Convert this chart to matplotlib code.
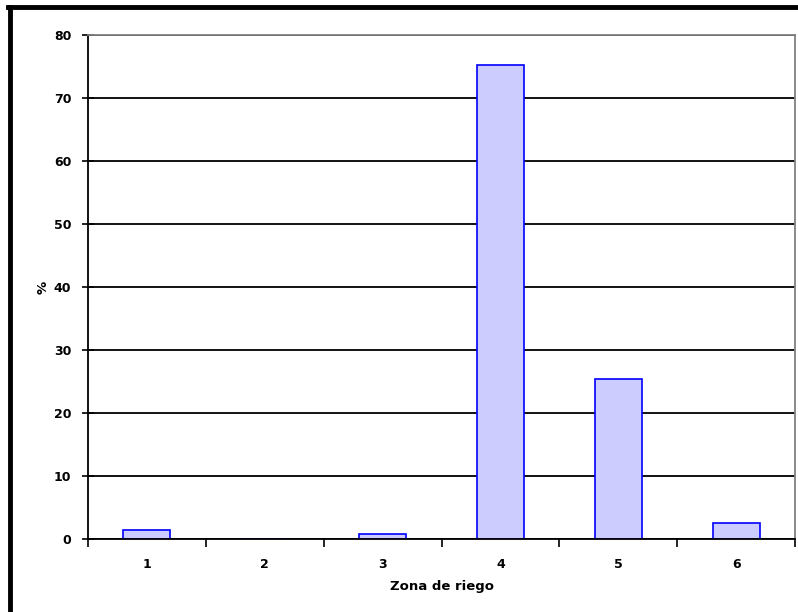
import matplotlib.pyplot as plt
from matplotlib.lines import Line2D

zonas = ['1', '2', '3', '4', '5', '6']
porcentaje = [1.5, 0.0, 0.8, 75.3, 25.4, 2.5]
yticks = [0, 10, 20, 30, 40, 50, 60, 70, 80]

W, H = 798, 612
fig = plt.figure(figsize=(W / 100, H / 100), dpi=100)
ax = fig.add_axes([88 / W, (H - 539) / H, 707 / W, 504 / H])

x = list(range(len(zonas)))
# bars sit under the spines so an empty category leaves no outline
ax.bar(x, porcentaje, width=0.4, color='#CCCCFF', edgecolor='#0000FF',
       linewidth=1.2, zorder=2)

ax.set_xlim(-0.5, len(zonas) - 0.5)
ax.set_ylim(0, 80)
ax.set_yticks(yticks)
ax.set_yticklabels([str(v) for v in yticks])

# ticks on the category boundaries, labels centred under each bar
ax.set_xticks([i - 0.5 for i in range(len(zonas) + 1)])
ax.set_xticklabels([])
ax.set_xticks(x, minor=True)
ax.set_xticklabels(zonas, minor=True)
ax.tick_params(axis='x', which='major', direction='out', length=6, width=1.2)
ax.tick_params(axis='x', which='minor', length=0, pad=14)
ax.tick_params(axis='y', direction='inout', length=8, width=1.2, pad=8)

for lab in ax.get_yticklabels() + ax.get_xticklabels(minor=True):
    lab.set_fontsize(9)
    lab.set_fontweight('bold')

ax.grid(axis='y', color='black', linewidth=1.3)
ax.set_axisbelow(True)

for side in ('top', 'right'):
    ax.spines[side].set_color('#808080')
    ax.spines[side].set_linewidth(1.3)
ax.spines['left'].set_linewidth(1.3)
ax.spines['bottom'].set_linewidth(1.3)
for sp in ax.spines.values():
    sp.set_zorder(3)

ax.set_xlabel('Zona de riego', labelpad=6, fontsize=9.5, fontweight='bold')
ax.set_ylabel('%', labelpad=3, fontsize=9.5, fontweight='bold')

# thick frame around the chart area
fig.add_artist(Line2D([10 / W, 10 / W], [0, 1 - 7 / H], color='black',
                      linewidth=3.5, transform=fig.transFigure))
fig.add_artist(Line2D([8 / W, 1], [1 - 7 / H, 1 - 7 / H], color='black',
                      linewidth=3.5, transform=fig.transFigure))

fig.savefig('out.png', dpi=100)
